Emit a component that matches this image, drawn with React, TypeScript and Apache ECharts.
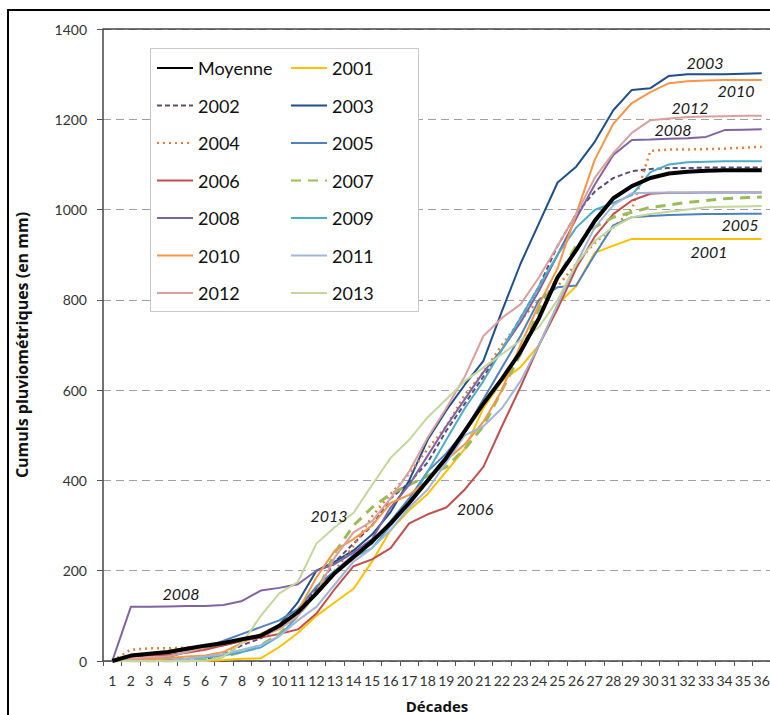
import React, { useEffect, useRef } from "react";
import * as echarts from "echarts";

const decades = Array.from({ length: 36 }, (_, i) => String(i + 1));
const yTicks = [0, 200, 400, 600, 800, 1000, 1200, 1400];

const moyenne = [0,12,16,20,27,34,40,48,56,78,108,150,195,230,265,305,350,400,450,510,570,625,685,760,850,910,975,1025,1052,1070,1080,1084,1086,1087,1087,1087];
const y2001 = [0,0,0,0,0,0,2,5,6,31,62,100,130,160,220,290,334,370,420,470,560,620,651,700,790,830,904,920,935,935,935,935,935,935,935,935];
const y2002 = [0,0,0,0,0,2,15,35,50,75,110,160,220,260,300,360,395,440,510,570,630,690,760,830,920,990,1040,1070,1085,1090,1092,1092,1093,1093,1093,1093];
const y2003 = [0,10,15,18,25,30,35,45,55,80,130,200,220,245,280,330,400,490,555,612,665,775,880,970,1060,1095,1150,1220,1265,1269,1296,1300,1300,1300,1301,1302];
const y2004 = [0,25,28,28,30,32,38,45,55,75,110,160,200,255,320,370,415,470,520,590,640,700,755,800,830,880,926,960,1000,1130,1133,1133,1134,1135,1137,1139];
const y2005 = [0,2,5,8,20,30,45,60,75,90,115,165,200,235,260,310,360,420,460,510,580,650,720,800,828,832,900,965,983,986,988,989,990,990,991,991];
const y2006 = [0,10,12,14,18,25,35,45,52,60,70,105,160,210,225,250,305,325,340,380,430,520,607,700,780,870,940,990,1020,1035,1037,1037,1038,1038,1038,1038];
const y2007 = [0,0,0,0,0,2,10,20,35,60,100,150,240,300,340,370,390,410,430,470,520,600,680,780,850,920,961,983,994,1005,1010,1016,1020,1024,1026,1028];
const y2008 = [0,120,120,121,122,122,124,133,156,162,170,200,215,240,270,340,390,455,520,580,640,690,750,820,900,980,1055,1121,1154,1155,1157,1158,1161,1176,1177,1178];
const y2009 = [0,0,0,2,5,8,12,20,30,55,100,150,200,230,250,300,350,420,490,560,620,690,760,830,900,960,999,1015,1032,1083,1100,1105,1106,1107,1107,1107];
const y2010 = [0,2,4,6,10,12,20,40,60,80,110,185,245,270,300,350,368,400,445,480,530,600,700,790,870,990,1110,1190,1236,1260,1280,1284,1286,1287,1287,1287];
const y2011 = [0,0,0,0,5,10,15,25,35,55,90,120,170,220,250,290,340,380,440,500,520,560,620,700,790,880,960,1010,1036,1037,1038,1038,1038,1038,1038,1038];
const y2012 = [0,5,8,10,20,30,40,50,55,70,100,150,230,285,310,360,420,495,560,630,720,760,790,850,920,990,1070,1125,1170,1198,1202,1205,1206,1207,1208,1208];
const y2013 = [0,0,0,0,0,0,10,40,100,150,175,260,297,328,390,450,490,540,580,620,650,680,710,740,800,880,930,961,983,990,995,1000,1005,1006,1007,1008];

const leftLegend = ["Moyenne", "2002", "2004", "2006", "2008", "2010", "2012"];
const rightLegend = ["2001", "2003", "2005", "2007", "2009", "2011", "2013"];

const FONT = "Lato, 'Open Sans', sans-serif";
const NAME_FONT = "'Open Sans', Lato, sans-serif";

export default function App() {
  const ref = useRef<HTMLDivElement>(null);
  useEffect(() => {
    if (!ref.current) return;
    const chart = echarts.init(ref.current, null, { renderer: "svg" });
    const line = (name: string, data: number[], color: string, width = 2, type: any = "solid", z = 2) => ({
      name,
      type: "line",
      data,
      symbol: "none",
      smooth: false,
      z,
      lineStyle: { color, width, type },
      itemStyle: { color },
    });
    const series = [
      line("2001", y2001, "#FFC000"),
      line("2002", y2002, "#604A7B", 2, [5, 3]),
      line("2003", y2003, "#1F4E8C"),
      line("2004", y2004, "#E0803A", 2.5, [2, 4]),
      line("2005", y2005, "#4F81BD"),
      line("2006", y2006, "#C0504D"),
      line("2007", y2007, "#9BBB59", 3, [10, 7]),
      line("2008", y2008, "#8064A2"),
      line("2009", y2009, "#4BACC6"),
      line("2010", y2010, "#F79646"),
      line("2011", y2011, "#A0B6DA"),
      line("2012", y2012, "#D9A09E"),
      line("2013", y2013, "#C3D69B"),
      line("Moyenne", moyenne, "#000000", 4, "solid", 5),
    ];
    const legendCommon = {
      orient: "vertical",
      top: 59,
      z: 20,
      padding: 0,
      itemWidth: 36,
      itemHeight: 14,
      itemGap: 19.5,
      itemStyle: { opacity: 0 },
      textStyle: { fontFamily: FONT, fontSize: 18, color: "#111" },
      selectedMode: false,
    };
    const annot = (text: string, x: number, y: number) => ({
      type: "text",
      x,
      y,
      z: 20,
      style: {
        text,
        fill: "#1a1a1a",
        font: "italic 16px Lato, 'Open Sans', sans-serif",
        textAlign: "center",
        textVerticalAlign: "middle",
      },
    });
    chart.setOption({
      animation: false,
      backgroundColor: "#ffffff",
      grid: { left: 103, top: 29, width: 668, height: 632, containLabel: false, outerBoundsMode: "none" },
      legend: [
        { ...legendCommon, left: 156, data: leftLegend },
        { ...legendCommon, left: 290, data: rightLegend },
      ],
      xAxis: {
        type: "category",
        data: decades,
        boundaryGap: true,
        name: "Décades",
        nameLocation: "middle",
        nameGap: 37,
        nameTextStyle: { fontFamily: NAME_FONT, fontSize: 15, fontWeight: "bold", color: "#111" },
        axisLine: { lineStyle: { color: "#444", width: 1.5 } },
        axisTick: { show: true, inside: false, length: 5, lineStyle: { color: "#555" } },
        axisLabel: { interval: 0, fontFamily: FONT, fontSize: 14, color: "#333", margin: 12 },
      },
      yAxis: {
        type: "value",
        min: 0,
        max: 1400,
        interval: 200,
        name: "Cumuls pluviométriques (en mm)",
        nameLocation: "middle",
        nameGap: 73,
        nameTextStyle: { fontFamily: NAME_FONT, fontSize: 16, fontWeight: "bold", color: "#111" },
        axisLine: { show: true, lineStyle: { color: "#444", width: 1.5 } },
        axisTick: { show: true, length: 6, lineStyle: { color: "#555" } },
        axisLabel: {
          fontFamily: FONT,
          fontSize: 14,
          color: "#333",
          margin: 16,
          formatter: (v: number) => (yTicks.includes(v) ? String(v) : ""),
        },
        splitLine: { show: true, lineStyle: { color: "#a0a0a0", type: [8, 5], width: 1 } },
      },
      graphic: [
        {
          type: "rect",
          z: -1,
          shape: { x: 8, y: 10, width: 900, height: 900 },
          style: { fill: "none", stroke: "#000", lineWidth: 2 },
        },
        {
          type: "line",
          z: 1,
          shape: { x1: 103, y1: 29, x2: 772, y2: 29 },
          style: { stroke: "#444", lineWidth: 1.5 },
        },
        {
          type: "rect",
          z: 1,
          shape: { x: 150.5, y: 48.5, width: 268, height: 263 },
          style: { fill: "#ffffff", stroke: "#c8c8c8", lineWidth: 1 },
        },
        annot("2003", 705, 62),
        annot("2010", 736, 90),
        annot("2012", 690, 107),
        annot("2008", 673, 129),
        annot("2005", 740, 224),
        annot("2001", 709, 251),
        annot("2013", 329, 515),
        annot("2006", 475, 508),
        annot("2008", 181, 593),
      ],
      series,
    });
    return () => chart.dispose();
  }, []);
  return (
    <div
      ref={ref}
      style={{ position: "fixed", left: 0, top: 0, width: 770, height: 715, background: "#fff" }}
    />
  );
}
